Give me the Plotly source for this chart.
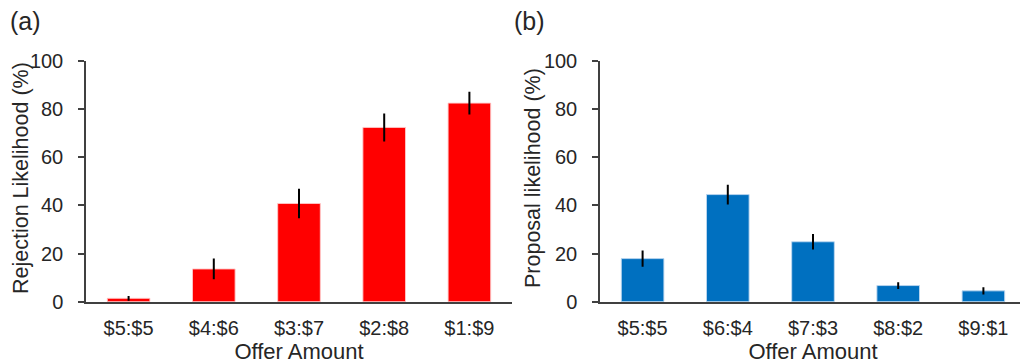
import plotly.graph_objects as go

# ---- data ----
categories_a = ["$5:$5", "$4:$6", "$3:$7", "$2:$8", "$1:$9"]
rejection = [1.4, 13.6, 40.8, 72.4, 82.5]
rejection_err = [1.0, 4.3, 6.1, 5.8, 4.7]

categories_b = ["$5:$5", "$6:$4", "$7:$3", "$8:$2", "$9:$1"]
proposal = [17.9, 44.5, 24.9, 6.7, 4.5]
proposal_err = [3.4, 4.1, 3.2, 1.4, 1.5]

y_ticks = [0, 20, 40, 60, 80, 100]

W, H = 1028, 364
OFF = 8  # page body margin offset
FONT = "Liberation Sans, Arial, sans-serif"
TXT = "#262626"
AXC = "#404040"


def px(x):
    return (x - OFF) / W


def py(y):
    return 1 - (y - OFF) / H


fig = go.Figure()
fig.add_trace(go.Bar(
    x=categories_a, y=rejection,
    error_y=dict(type="data", array=rejection_err, color="black", thickness=2, width=0),
    marker=dict(color="#FF0000", line=dict(color="rgba(255,200,200,0.9)", width=1)),
    xaxis="x", yaxis="y", showlegend=False))
fig.add_trace(go.Bar(
    x=categories_b, y=proposal,
    error_y=dict(type="data", array=proposal_err, color="black", thickness=2, width=0),
    marker=dict(color="#0070C0", line=dict(color="rgba(190,215,240,0.9)", width=1)),
    xaxis="x2", yaxis="y2", showlegend=False))

common_x = dict(showline=True, linecolor=AXC, linewidth=1.5, ticks="", showgrid=False,
                automargin=False, ticklabelstandoff=8,
                tickfont=dict(family=FONT, size=20, color=TXT), zeroline=False,
                title=dict(text="Offer Amount", font=dict(family=FONT, size=22, color=TXT), standoff=0))
common_y = dict(range=[0, 100], tickvals=y_ticks, showline=True, linecolor=AXC, linewidth=1.5,
                ticks="outside", ticklen=6, tickcolor=AXC, tickwidth=1.5, showgrid=False,
                zeroline=False, ticklabelstandoff=11, automargin=False,
                tickfont=dict(family=FONT, size=20, color=TXT))

fig.update_layout(
    width=W, height=H,
    template="none",
    margin=dict(l=0, r=0, t=0, b=0),
    paper_bgcolor="white", plot_bgcolor="white",
    bargap=0.5,
    xaxis=dict(domain=[px(86), px(512)], anchor="y", **common_x),
    yaxis=dict(domain=[py(301.7), py(61)], anchor="x", **common_y),
    xaxis2=dict(domain=[px(600), px(1026)], anchor="y2", **common_x),
    yaxis2=dict(domain=[py(301.7), py(61)], anchor="x2", **common_y),
    annotations=[
        dict(text="(a)", x=0, y=py(21), xref="paper", yref="paper", xanchor="left",
             yanchor="middle", showarrow=False, font=dict(family=FONT, size=25, color=TXT)),
        dict(text="(b)", x=px(512), y=py(21), xref="paper", yref="paper", xanchor="left",
             yanchor="middle", showarrow=False, font=dict(family=FONT, size=25, color=TXT)),
        dict(text="Rejection Likelihood (%)", x=0, y=py(178), xref="paper", yref="paper",
             textangle=-90, xanchor="left", yanchor="middle", showarrow=False, borderpad=0,
             font=dict(family=FONT, size=21.5, color=TXT)),
        dict(text="Proposal likelihood (%)", x=px(533), y=py(178), xref="paper", yref="paper",
             textangle=-90, xanchor="center", yanchor="middle", showarrow=False,
             font=dict(family=FONT, size=21.5, color=TXT)),
    ],
)

fig.write_html("out.html")
